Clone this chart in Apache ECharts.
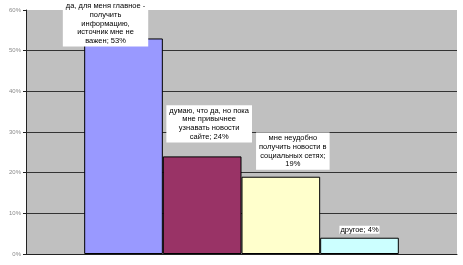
<!DOCTYPE html>
<html lang="ru">
<head>
<meta charset="UTF-8">
<title>Опрос</title>
<script src="https://cdn.jsdelivr.net/npm/echarts@6/dist/echarts.min.js"></script>
<style>
  html, body { margin: 0; padding: 0; background: #fff; }
  #chart { width: 463px; height: 265px; }
</style>
</head>
<body>
<div id="chart"></div>
<script>
  // answers (names already wrapped as in the picture) and their shares, %
  const names = [
    'да, для меня главное -\nполучить\nинформацию,\nисточник мне не\nважен',
    'думаю, что да, но пока\nмне привычнее\nузнавать новости\nсайте',
    'мне неудобно\nполучить новости в\nсоциальных сетях',
    'другое'
  ];
  const values = [53, 24, 19, 4];
  const separators = ['; ', '; ', ';\n', '; '];
  const yTicks = [0, 10, 20, 30, 40, 50, 60];

  const colors = ['#9999FF', '#993366', '#FFFFCC', '#CCFFFF'];
  const labelOffsets = [[-18, 8], [7, -14], [12, -7], [0, -4]];

  const chart = echarts.init(document.getElementById('chart'));

  const series = names.map((name, i) => ({
    name: name,
    type: 'bar',
    data: [values[i]],
    barGap: '0%',
    barCategoryGap: '27%',
    itemStyle: { color: colors[i], borderColor: '#000', borderWidth: 1 },
    label: {
      show: true,
      position: 'top',
      distance: 0,
      offset: labelOffsets[i],
      formatter: p => p.seriesName + separators[i] + p.value + '%',
      fontFamily: 'Liberation Sans, Arial, sans-serif',
      fontSize: 7.5,
      lineHeight: i === 3 ? 8 : 8.8,
      color: '#000',
      backgroundColor: '#fff',
      padding: i === 3 ? [0, 1] : (i === 0 ? [4, 3, 1, 3] : [1, 3]),
      align: 'center'
    },
    z: 2
  }));

  chart.setOption({
    animation: false,
    grid: {
      left: 26, right: 6, top: 10, bottom: 11,
      show: true, backgroundColor: '#C0C0C0', borderWidth: 0
    },
    xAxis: {
      type: 'category',
      data: [''],
      axisLine: { lineStyle: { color: '#222', width: 1 } },
      axisTick: { show: false },
      axisLabel: { show: false }
    },
    yAxis: {
      type: 'value',
      min: yTicks[0],
      max: yTicks[yTicks.length - 1],
      interval: 10,
      axisLine: { show: true, lineStyle: { color: '#222', width: 1 } },
      axisTick: { show: true, length: 3, lineStyle: { color: '#222' } },
      axisLabel: {
        formatter: '{value}%',
        fontSize: 6,
        color: '#8a8a8a',
        margin: 5,
        fontFamily: 'Liberation Sans, Arial, sans-serif'
      },
      splitLine: {
        show: true,
        lineStyle: {
          color: ['#333', '#333', '#333', '#333', '#333', '#333', '#C0C0C0'],
          width: 1
        }
      }
    },
    series: series
  });
</script>
</body>
</html>
